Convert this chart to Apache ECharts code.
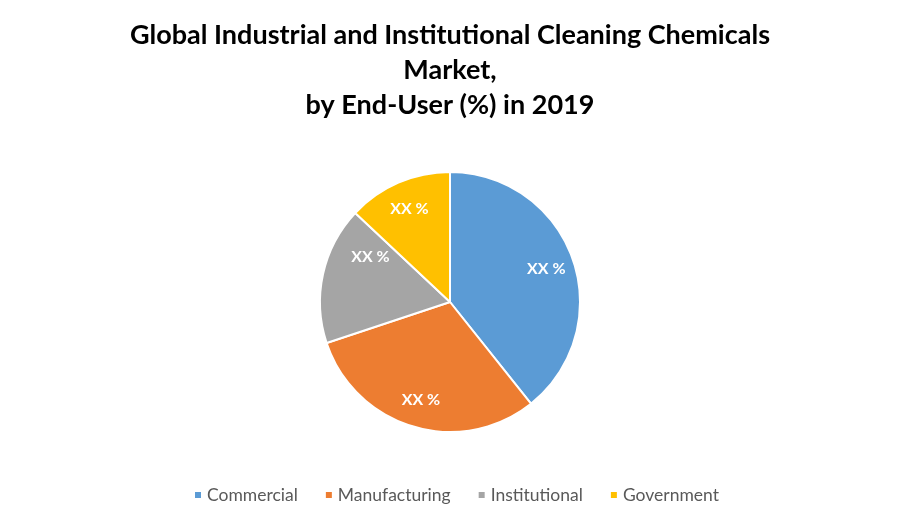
<!DOCTYPE html>
<html>
<head>
<meta charset="utf-8">
<script src="https://cdn.jsdelivr.net/npm/echarts@6/dist/echarts.min.js"></script>
<style>
html,body{margin:0;padding:0;background:#fff;}
#chart{width:900px;height:525px;}
</style>
</head>
<body>
<div id="chart"></div>
<script>
const titleLines = ['Global Industrial and Institutional Cleaning Chemicals', 'Market,', 'by End-User (%) in 2019'];
const categories = ['Commercial', 'Manufacturing', 'Institutional', 'Government'];
const shares = [39.3, 30.6, 17.1, 13.0];
const labelTexts = ['XX %', 'XX %', 'XX %', 'XX %'];
const colors = ['#5B9BD5', '#ED7D31', '#A5A5A5', '#FFC000'];

const font = 'Lato, "Open Sans", sans-serif';
const pieData = categories.map((c, i) => ({ name: c, value: shares[i] }));
const labelData = categories.map((c, i) => {
  const d = { name: c, value: shares[i] };
  if (i === 2) d.label = { offset: [20, -23] };
  return d;
});

const chart = echarts.init(document.getElementById('chart'), null, { renderer: 'canvas' });
chart.setOption({
  animation: false,
  backgroundColor: '#ffffff',
  color: colors,
  graphic: titleLines.map((t, i) => ({
    type: 'text',
    x: 450,
    y: 35 + i * 35,
    style: {
      text: t,
      fontFamily: font,
      fontWeight: 'bold',
      fontSize: 27,
      fill: '#000000',
      align: 'center',
      verticalAlign: 'middle'
    }
  })),
  legend: {
    data: categories,
    bottom: 16,
    left: 188,
    icon: 'rect',
    itemWidth: 8,
    itemHeight: 8,
    itemGap: 26,
    textStyle: { fontFamily: font, fontSize: 17.5, color: '#595959' }
  },
  series: [
    {
      type: 'pie',
      center: [450, 302],
      radius: [0, 130],
      startAngle: 90,
      clockwise: true,
      data: pieData,
      label: { show: false },
      labelLine: { show: false },
      itemStyle: { borderColor: '#ffffff', borderWidth: 2 },
      emphasis: { disabled: true }
    },
    {
      type: 'pie',
      center: [450, 302],
      radius: [68, 130],
      startAngle: 90,
      clockwise: true,
      silent: true,
      data: labelData,
      itemStyle: { color: 'rgba(0,0,0,0)', borderWidth: 0 },
      label: {
        show: true,
        position: 'inside',
        formatter: p => labelTexts[p.dataIndex],
        color: '#ffffff',
        fontFamily: font,
        fontWeight: 'bold',
        fontSize: 16
      },
      labelLine: { show: false },
      emphasis: { disabled: true }
    }
  ]
});
</script>
</body>
</html>
